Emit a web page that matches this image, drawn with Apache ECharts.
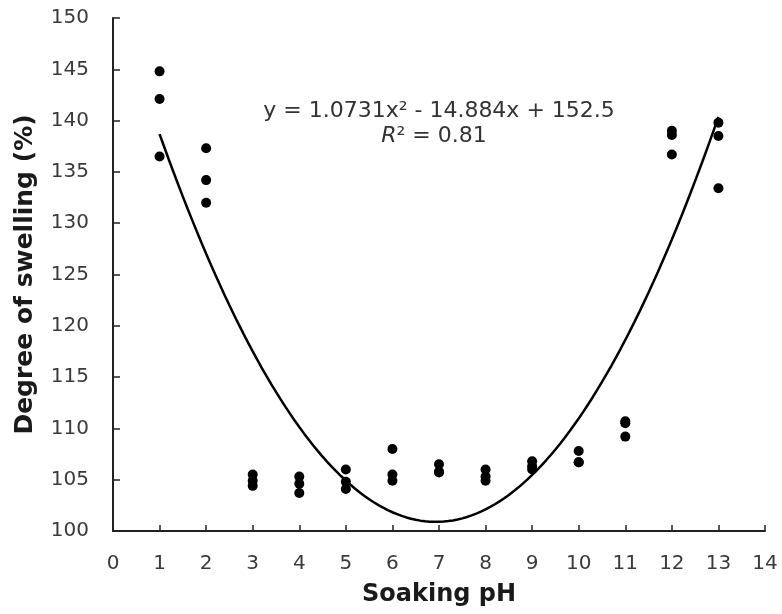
<!DOCTYPE html>
<html>
<head>
<meta charset="utf-8">
<script src="https://cdn.jsdelivr.net/npm/echarts@6/dist/echarts.min.js"></script>
<style>
html,body{margin:0;padding:0;background:#fff;}
#chart{width:782px;height:614px;}
</style>
</head>
<body>
<div id="chart"></div>
<script>
// Soaking pH categories (x values) and three replicate measurements each
const phValues = [1, 2, 3, 4, 5, 6, 7, 8, 9, 10, 11, 12, 13];
const rep1 = [144.8, 137.3, 105.5, 105.3, 106.0, 108.0, 106.5, 106.0, 106.8, 107.8, 110.7, 139.0, 139.8];
const rep2 = [142.1, 134.2, 104.9, 104.6, 104.8, 105.5, 105.8, 105.3, 106.3, 106.7, 109.2, 138.6, 138.5];
const rep3 = [136.5, 132.0, 104.4, 103.7, 104.1, 104.9, 105.7, 104.9, 106.0, 106.7, 110.5, 136.7, 133.4];
// Trendline coefficients as printed on the chart: y = a x^2 + b x + c
const trendCoef = [1.0731, -14.884, 152.5];
const trendRange = [1, 13];
const xTicks = [0, 14, 1];
const yTicks = [100, 150, 5];
const equationText = 'y = 1.0731x² - 14.884x + 152.5';
const r2Value = '0.81';

const scatterData = [];
phValues.forEach((p, i) => {
  scatterData.push([p, rep1[i]]);
  scatterData.push([p, rep2[i]]);
  scatterData.push([p, rep3[i]]);
});
const trendData = [];
for (let k = 0; k <= 120; k++) {
  const x = trendRange[0] + (trendRange[1] - trendRange[0]) * k / 120;
  trendData.push([x, trendCoef[0] * x * x + trendCoef[1] * x + trendCoef[2]]);
}

const FONT = '"DejaVu Sans", Arial, sans-serif';
const chart = echarts.init(document.getElementById('chart'), null, {renderer: 'canvas'});
chart.setOption({
  backgroundColor: '#ffffff',
  animation: false,
  grid: {left: 113, right: 17, top: 18, bottom: 83, containLabel: false},
  xAxis: {
    type: 'value', min: xTicks[0], max: xTicks[1], interval: xTicks[2],
    name: 'Soaking pH', nameLocation: 'middle', nameGap: 52,
    nameTextStyle: {fontFamily: FONT, fontSize: 24, fontWeight: 'bold', color: '#1a1a1a'},
    axisLine: {lineStyle: {color: '#222', width: 2}},
    axisTick: {inside: true, length: 6, lineStyle: {color: '#222', width: 1.5}},
    axisLabel: {fontFamily: FONT, fontSize: 20, color: '#3a3a3a', margin: 23},
    splitLine: {show: false}
  },
  yAxis: {
    type: 'value', min: yTicks[0], max: yTicks[1], interval: yTicks[2],
    name: 'Degree of swelling (%)', nameLocation: 'middle', nameGap: 75,
    nameTextStyle: {fontFamily: FONT, fontSize: 25, fontWeight: 'bold', color: '#1a1a1a'},
    axisLine: {show: true, lineStyle: {color: '#222', width: 2}},
    axisTick: {show: true, inside: true, length: 7, lineStyle: {color: '#222', width: 1.5}},
    axisLabel: {fontFamily: FONT, fontSize: 20, color: '#3a3a3a', margin: 24},
    splitLine: {show: false}
  },
  graphic: [
    {type: 'text', x: 439, y: 111,
     style: {text: equationText, font: '22px ' + FONT, fill: '#333', align: 'center', verticalAlign: 'middle'}},
    {type: 'text', x: 434, y: 136,
     style: {
       rich: {i: {fontStyle: 'italic', fontSize: 22, fontFamily: FONT, fill: '#333'},
              n: {fontSize: 22, fontFamily: FONT, fill: '#333'}},
       text: '{i|R}{n|² = ' + r2Value + '}', align: 'center', verticalAlign: 'middle'
     }}
  ],
  series: [
    {type: 'line', data: trendData, showSymbol: false, smooth: false,
     lineStyle: {color: '#000', width: 2.5}, z: 2, silent: true},
    {type: 'scatter', data: scatterData, symbol: 'circle', symbolSize: 10,
     itemStyle: {color: '#000', opacity: 1}, z: 3}
  ]
});
</script>
</body>
</html>
